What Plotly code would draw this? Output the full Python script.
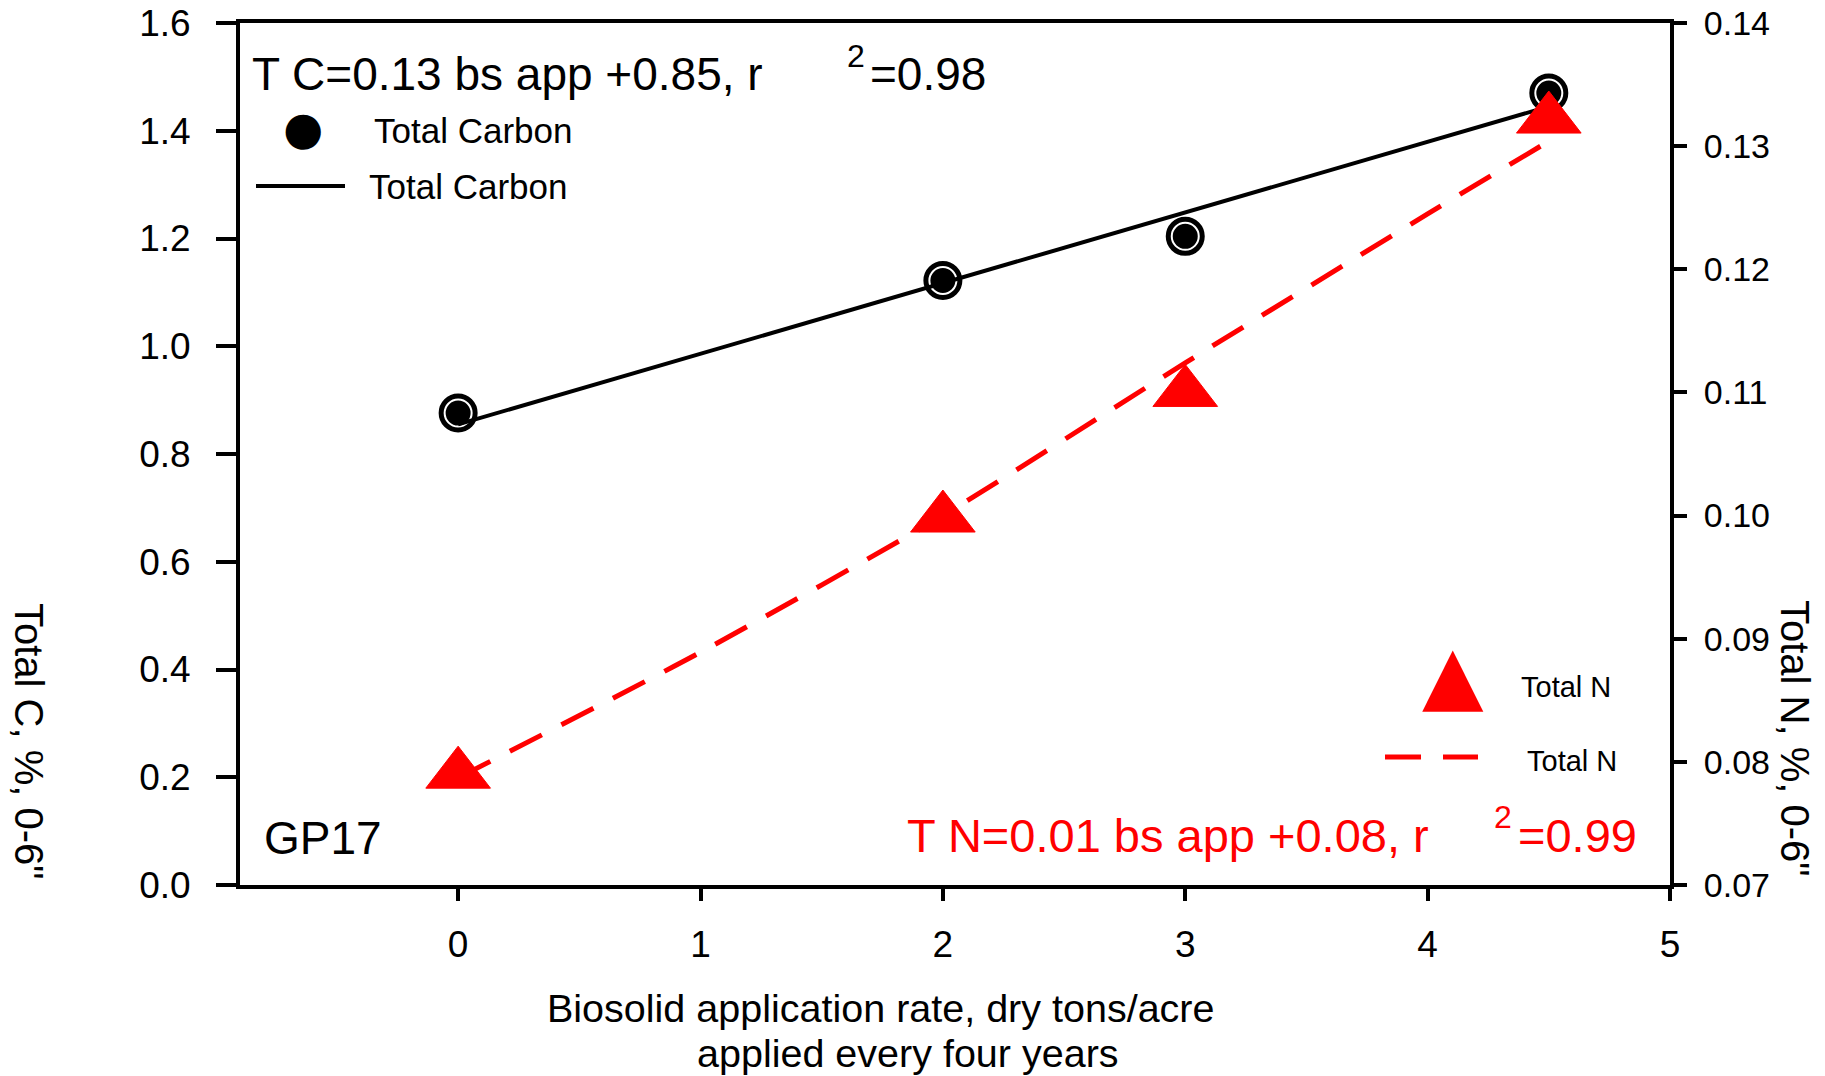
import plotly.graph_objects as go

# ---- data ----
rate = [0, 2, 3, 4.5]
total_c = [0.876, 1.122, 1.204, 1.470]
total_n = [0.0790, 0.0998, 0.1100, 0.1322]

tc_fit_x = [0, 4.5]
tc_fit_y = [0.855, 1.445]
tn_fit_x = [0, 1, 2, 3, 4, 4.5]
tn_fit_y = [0.0787, 0.0889, 0.1000, 0.1124, 0.1245, 0.1304]

x_ticks = [0, 1, 2, 3, 4, 5]
c_ticks = [0.0, 0.2, 0.4, 0.6, 0.8, 1.0, 1.2, 1.4, 1.6]
n_ticks = [0.07, 0.08, 0.09, 0.10, 0.11, 0.12, 0.13, 0.14]

W, H = 1825, 1076
L, R, T, B = 240, 1670, 23, 885
FONT = "Liberation Sans, Arial, sans-serif"


def px(x):
    return (x - L) / (R - L)


def py(y):
    return (B - y) / (B - T)


fig = go.Figure()

# Total Carbon points
fig.add_trace(go.Scatter(x=rate, y=total_c, mode="markers",
                         marker=dict(symbol="circle", size=37, color="black",
                                     line=dict(color="black", width=2)),
                         showlegend=False))
fig.add_trace(go.Scatter(x=rate, y=total_c, mode="markers",
                         marker=dict(symbol="circle-open", size=27, color="white",
                                     line=dict(color="white", width=2)),
                         showlegend=False, hoverinfo="skip"))
# Total Carbon regression
fig.add_trace(go.Scatter(x=tc_fit_x, y=tc_fit_y, mode="lines",
                         line=dict(color="black", width=4), showlegend=False))
# Total N fit line
fig.add_trace(go.Scatter(x=tn_fit_x, y=tn_fit_y, mode="lines", yaxis="y2",
                         line=dict(color="#ff0000", width=5, dash="36px,22px",
                                   shape="spline", smoothing=0.6),
                         showlegend=False))
# Total N points
fig.add_trace(go.Scatter(x=rate, y=total_n, mode="markers", yaxis="y2",
                         marker=dict(symbol="triangle-up", size=56, color="#ff0000",
                                     line=dict(color="#ff0000", width=1)),
                         showlegend=False))

ann = []


def text(x, y, s, size, color="black", xanchor="left", angle=0, family=FONT):
    ann.append(dict(x=px(x), y=py(y), xref="paper", yref="paper", text=s,
                    showarrow=False, xanchor=xanchor, yanchor="middle",
                    textangle=angle, font=dict(size=size, color=color, family=family)))


# equations
text(250, 74, "T C=0.13 bs app +0.85, r", 46)
text(845, 56, "2", 32)
text(868, 74, "=0.98", 46)
text(905, 835, "T N=0.01 bs app +0.08, r", 47, color="#ff0000")
text(1492, 817, "2", 32, color="#ff0000")
text(1516, 835, "=0.99", 47, color="#ff0000")
text(262, 838, "GP17", 46)

# legends
text(303, 128, "●", 46, xanchor="center", family="DejaVu Sans")
text(372, 130, "Total Carbon", 35)
text(367, 186, "Total Carbon", 35)
text(1453, 674, "▲", 80, color="#ff0000", xanchor="center", family="DejaVu Sans")
text(1519, 687, "Total N", 29)
text(1525, 761, "Total N", 29)

# axis titles
text(880, 1008, "Biosolid application rate, dry tons/acre", 39.5, xanchor="center")
text(908, 1053, "applied every four years", 39.5, xanchor="center")
text(29, 742, "Total C, %, 0-6\"", 40, xanchor="center", angle=90)
text(1795, 738, "Total N, %, 0-6\"", 40, xanchor="center", angle=90)

shapes = [
    dict(type="line", xref="paper", yref="paper", x0=px(256), x1=px(345),
         y0=py(186), y1=py(186), line=dict(color="black", width=4)),
    dict(type="line", xref="paper", yref="paper", x0=px(1385), x1=px(1478),
         y0=py(757), y1=py(757), line=dict(color="#ff0000", width=5, dash="36px,22px")),
]

fig.update_layout(
    width=W, height=H,
    margin=dict(l=L, r=W - R, t=T, b=H - B, pad=0),
    paper_bgcolor="white", plot_bgcolor="white",
    font=dict(family=FONT, color="black"),
    annotations=ann, shapes=shapes,
    xaxis=dict(range=[-0.9, 5], tickvals=x_ticks, ticktext=[str(v) for v in x_ticks],
               showgrid=False, zeroline=False, showline=True, linecolor="black",
               linewidth=4, mirror=True, ticks="outside", ticklen=12, tickwidth=4,
               tickcolor="black", tickfont=dict(size=37, family=FONT),
               ticklabelstandoff=12, ticklabeloverflow="allow", automargin=False),
    yaxis=dict(range=[0, 1.6], tickvals=c_ticks, ticktext=[f"{v:.1f}" for v in c_ticks],
               showgrid=False, zeroline=False, showline=True, linecolor="black",
               linewidth=4, ticks="outside", ticklen=20, tickwidth=4,
               tickcolor="black", tickfont=dict(size=37, family=FONT),
               ticklabelstandoff=18, ticklabeloverflow="allow", automargin=False),
    yaxis2=dict(range=[0.07, 0.14], tickvals=n_ticks, ticktext=[f"{v:.2f}" for v in n_ticks],
                overlaying="y", side="right", anchor="x",
                showgrid=False, zeroline=False, showline=True, linecolor="black",
                linewidth=4, ticks="outside", ticklen=13, tickwidth=4,
                tickcolor="black", tickfont=dict(size=34, family=FONT),
                ticklabelstandoff=10, ticklabeloverflow="allow", automargin=False),
)

fig.write_html("out.html")
